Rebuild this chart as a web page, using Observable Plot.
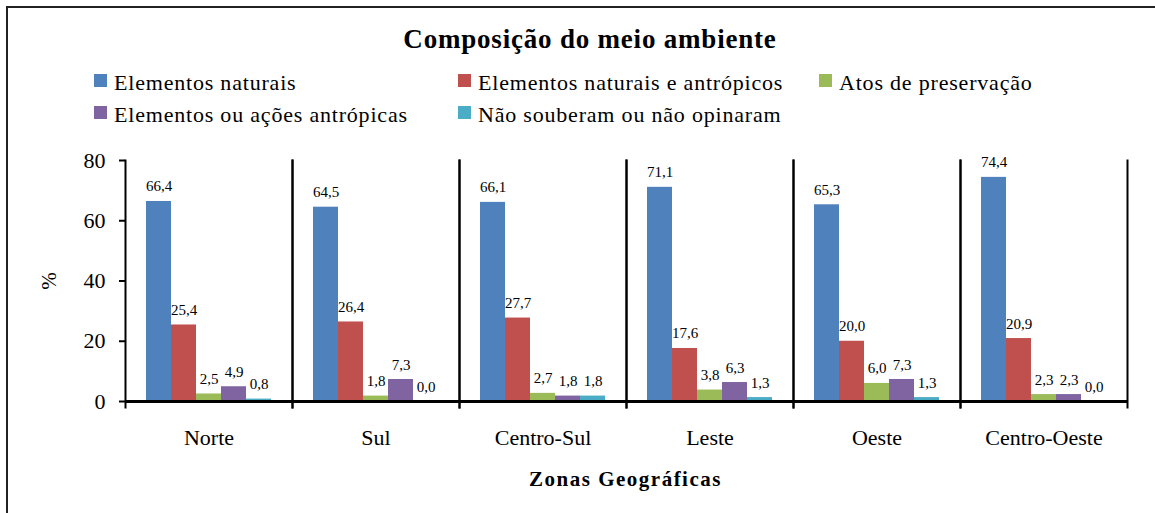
<!DOCTYPE html>
<html>
<head>
<meta charset="utf-8">
<script src="https://cdn.jsdelivr.net/npm/d3@7"></script>
<script src="https://cdn.jsdelivr.net/npm/@observablehq/plot@0.6"></script>
<style>
  html, body { margin: 0; padding: 0; background: #fff; }
  #page { position: relative; width: 1155px; height: 513px; overflow: hidden; font-family: "Liberation Serif", "Times New Roman", serif; color: #000; }
  #border { position: absolute; left: 6px; top: 6px; width: 1300px; height: 700px; border: 2px solid #222; box-sizing: border-box; }
  #title { position: absolute; left: 0; width: 1180px; top: 26px; text-align: center; font-weight: bold; font-size: 27px; line-height: 1; letter-spacing: 0.8px; white-space: nowrap; }
  #legend { position: absolute; left: 94px; top: 71.6px; display: grid; grid-template-columns: 364px 361px auto; grid-auto-rows: 32px; font-size: 22px; line-height: 22px; letter-spacing: 0.8px; white-space: nowrap; }
  #legend .sw { display: inline-block; width: 13px; height: 13px; margin-right: 7px; vertical-align: 3px; }
  #chart { position: absolute; left: 0; top: 130px; }
  #xtitle { position: absolute; left: 124px; width: 1003px; top: 469px; text-align: center; font-weight: bold; font-size: 21px; line-height: 1; letter-spacing: 1.5px; white-space: nowrap; }
  #ytitle { position: absolute; left: 48.5px; top: 281px; font-size: 21px; line-height: 1; transform: translate(-50%, -50%) rotate(-90deg); white-space: nowrap; }
</style>
</head>
<body>
<div id="page">
  <div id="border"></div>
  <div id="title"></div>
  <div id="legend"></div>
  <div id="chart"></div>
  <div id="xtitle"></div>
  <div id="ytitle"></div>
</div>
<script>
const titleText = "Composição do meio ambiente";
const xTitle = "Zonas Geográficas";
const yTitle = "%";
const zones = ["Norte", "Sul", "Centro-Sul", "Leste", "Oeste", "Centro-Oeste"];
const series = [
  "Elementos naturais",
  "Elementos naturais e antrópicos",
  "Atos de preservação",
  "Elementos ou ações antrópicas",
  "Não souberam ou não opinaram"
];
const naturais = [66.4, 64.5, 66.1, 71.1, 65.3, 74.4];
const naturaisAntropicos = [25.4, 26.4, 27.7, 17.6, 20.0, 20.9];
const preservacao = [2.5, 1.8, 2.7, 3.8, 6.0, 2.3];
const acoesAntropicas = [4.9, 7.3, 1.8, 6.3, 7.3, 2.3];
const naoSouberam = [0.8, 0.0, 1.8, 1.3, 1.3, 0.0];
const yTicks = [0, 20, 40, 60, 80];
const colors = ["#4F81BD", "#C0504D", "#9BBB59", "#8064A2", "#4BACC6"];

const seriesValues = [naturais, naturaisAntropicos, preservacao, acoesAntropicas, naoSouberam];
const data = zones.flatMap((z, i) => series.map((s, j) => ({zone: z, series: s, value: seriesValues[j][i]})));
const fmt = v => v.toFixed(1).replace(".", ",");

document.getElementById("title").textContent = titleText;
document.getElementById("xtitle").textContent = xTitle;
document.getElementById("ytitle").textContent = yTitle;

const legend = document.getElementById("legend");
series.forEach((s, j) => {
  const item = document.createElement("div");
  const sw = document.createElement("span");
  sw.className = "sw";
  sw.style.background = colors[j];
  item.appendChild(sw);
  item.appendChild(document.createTextNode(s));
  legend.appendChild(item);
});

const chart = Plot.plot({
  width: 1155,
  height: 383,
  marginTop: 30,
  marginBottom: 112,
  marginLeft: 124,
  marginRight: 28,
  style: {fontFamily: "Liberation Serif", color: "#000", background: "transparent", overflow: "visible"},
  fx: {domain: zones, padding: 0, label: null},
  x: {domain: series, paddingInner: 0, paddingOuter: 0.73, axis: null},
  y: {domain: [0, 80]},
  color: {domain: series, range: colors},
  marks: [
    Plot.barY(data, {fx: "zone", x: "series", y: "value", fill: "series"}),
    Plot.text(data, {fx: "zone", x: "series", y: "value", text: d => fmt(d.value), dy: -10, lineAnchor: "bottom", fontSize: 15, fill: "#000"}),
    Plot.frame({anchor: "left", stroke: "#000", strokeWidth: 2, insetBottom: -6}),
    Plot.frame({anchor: "right", stroke: "#000", strokeWidth: 2, insetBottom: -6}),
    Plot.ruleY([0], {stroke: "#000", strokeWidth: 3}),
    Plot.axisY({ticks: yTicks, tickSize: 6, tickPadding: 14, fontSize: 22, label: null, strokeWidth: 2, anchor: "left"}),
    Plot.axisFx({tickSize: 0, tickPadding: 28, fontSize: 22, label: null, anchor: "bottom"})
  ]
});
document.getElementById("chart").appendChild(chart);
</script>
</body>
</html>
